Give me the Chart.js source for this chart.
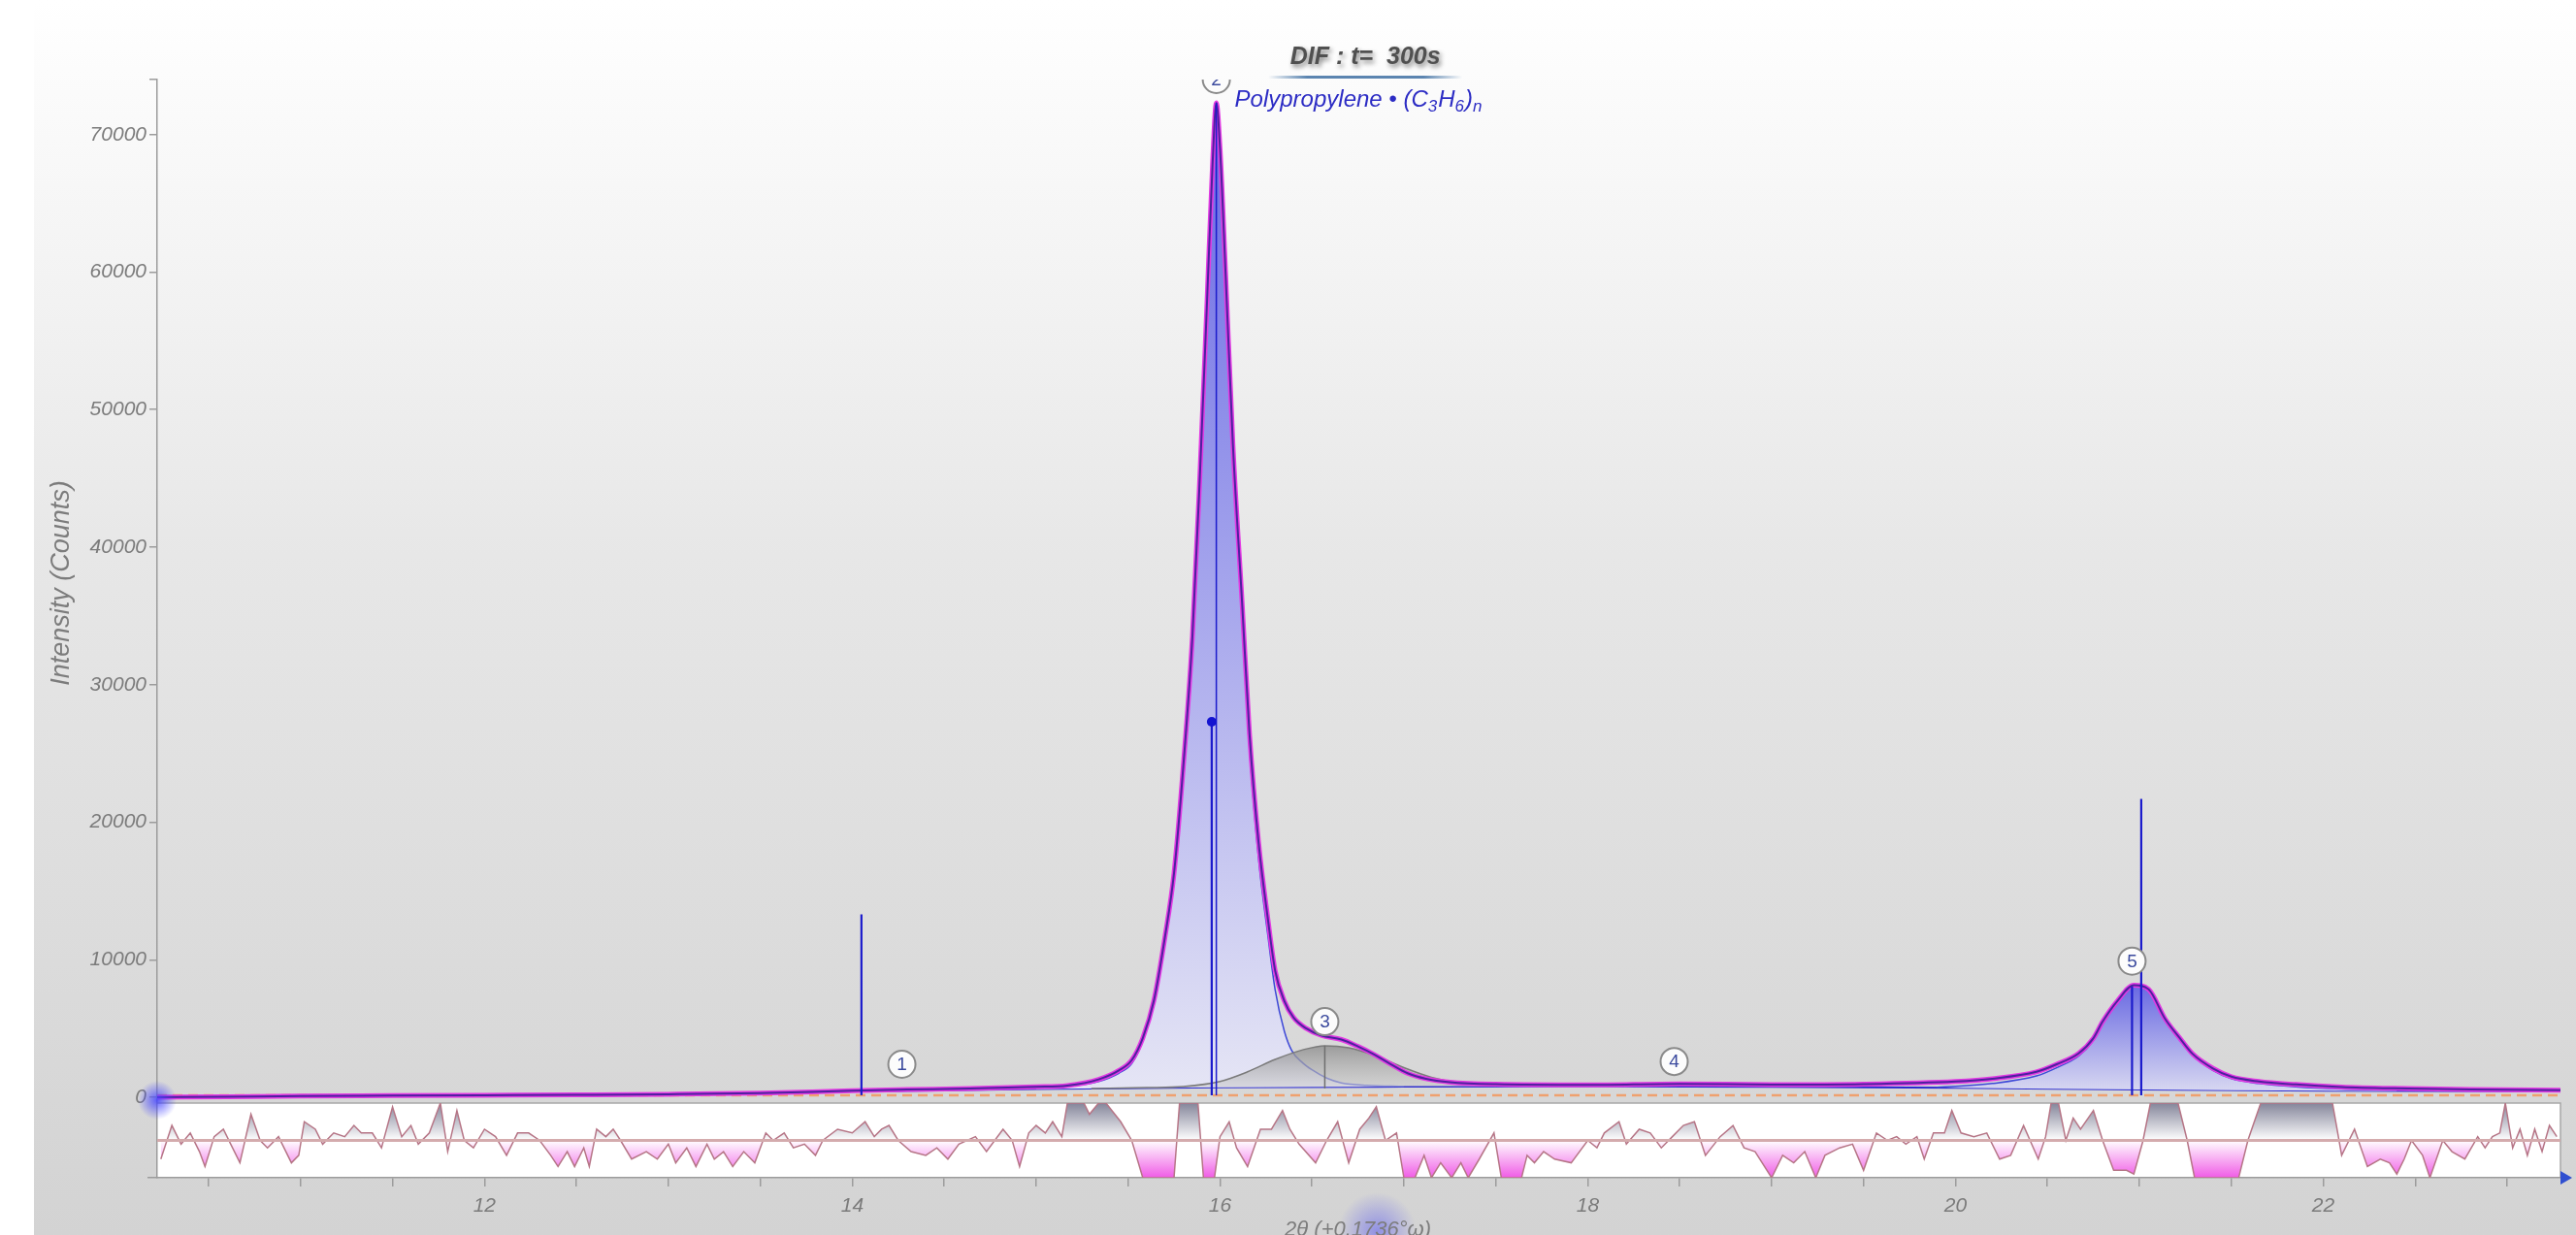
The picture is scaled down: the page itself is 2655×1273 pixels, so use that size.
<!DOCTYPE html>
<html>
<head>
<meta charset="utf-8">
<title>DIF : t= 300s</title>
<script src="https://cdn.jsdelivr.net/npm/chart.js@4.4.1/dist/chart.umd.min.js"></script>
<style>
  body { margin: 0; background: #ffffff; }
  canvas { display: block; }
</style>
</head>
<body>
<canvas id="difChart" width="2655" height="1273"></canvas>
<script>
// axis ranges and ticks
var xMin = 10.22, xMax = 23.29;
var yMin = -420, yMax = 74000;
var xTickValues = [10.5, 11, 11.5, 12, 12.5, 13, 13.5, 14, 14.5, 15, 15.5, 16, 16.5, 17, 17.5, 18, 18.5, 19, 19.5, 20, 20.5, 21, 21.5, 22, 22.5, 23];
var xTickLabels = [12, 14, 16, 18, 20, 22];
var yTickValues = [0, 10000, 20000, 30000, 40000, 50000, 60000, 70000];

// measured / calculated profile (2theta, counts)
var profileX = [10.22, 10.6, 11.0, 11.5, 12.0, 12.5, 13.0, 13.5, 14.0, 14.3,
  14.64, 15.0, 15.17, 15.34, 15.45, 15.52, 15.58, 15.64, 15.70, 15.75,
  15.80, 15.85, 15.89, 15.93, 15.96, 15.98, 16.00, 16.03, 16.07, 16.12,
  16.16, 16.21, 16.26, 16.30, 16.35, 16.40, 16.47, 16.55, 16.66, 16.75,
  16.84, 16.93, 17.02, 17.12, 17.25, 17.5, 18.0, 18.5, 19.0, 19.5,
  20.0, 20.2, 20.44, 20.55, 20.67, 20.75, 20.8, 20.88, 20.97, 21.05,
  21.14, 21.22, 21.29, 21.4, 21.5, 21.65, 21.85, 22.1, 22.38, 22.8,
  23.29];
var profileY = [0, 40, 90, 120, 150, 180, 220, 300, 480, 560,
  640, 760, 850, 1300, 1950, 2700, 4300, 7000, 11600, 16300,
  24000, 33500, 45000, 58000, 68000, 72300, 69000, 60000, 47500, 36000,
  26500, 18500, 13000, 9200, 7000, 5800, 5000, 4500, 4200, 3700,
  3100, 2400, 1750, 1350, 1100, 950, 900, 980, 920, 960,
  1150, 1350, 1850, 2400, 3200, 4300, 5500, 7000, 8150, 7850,
  5700, 4300, 3150, 2100, 1500, 1150, 930, 750, 650, 570,
  520];

// background
var bkgX = [10.22, 12, 13, 14, 15, 16, 17, 18, 19, 20, 21, 22, 23.29];
var bkgY = [0, 110, 230, 420, 600, 730, 770, 790, 760, 690, 560, 480, 440];

// fitted peaks (on top of background)
var peak2X = [15.0, 15.2, 15.34, 15.45, 15.52, 15.58, 15.64, 15.70, 15.75, 15.80,
  15.85, 15.89, 15.93, 15.96, 15.98, 16.00, 16.03, 16.07, 16.12, 16.16,
  16.21, 16.26, 16.30, 16.35, 16.39, 16.45, 16.50, 16.58, 16.66, 16.8,
  17.0];
var peak2Y = [700, 830, 1150, 1750, 2450, 4100, 6800, 11400, 16100, 23800,
  33300, 44800, 57800, 67900, 72300, 69000, 60000, 47300, 35500, 25500,
  17300, 11800, 7800, 4800, 3400, 2500, 2000, 1400, 1050, 870,
  790];
var peak3X = [15.3, 15.6, 15.8, 16.0, 16.15, 16.3, 16.45, 16.57, 16.7, 16.85, 17.0, 17.15, 17.3, 17.5];
var peak3Y = [640, 700, 780, 1150, 1850, 2750, 3450, 3750, 3600, 3000, 2150, 1450, 1050, 820];
var peak5X = [19.9, 20.2, 20.44, 20.55, 20.67, 20.75, 20.8, 20.88, 20.97, 21.05,
  21.14, 21.22, 21.29, 21.4, 21.5, 21.65, 21.85, 22.1, 22.4];
var peak5Y = [720, 1000, 1550, 2150, 3000, 4150, 5350, 6850, 8050, 7750,
  5550, 4150, 3050, 1950, 1350, 1000, 760, 600, 520];

// reflection markers
var markerX = [14.05, 15.98, 15.955, 20.96, 21.01];
var markerTop = [13300, 72300, 27300, 8050, 21700];
var baseLevel = 150;

// numbered peak labels
var peakNo = ['1', '2', '3', '4', '5'];
var peakLabelX = [14.27, 15.98, 16.57, 18.47, 20.96];
var peakLabelY = [2400, 74000, 5500, 2600, 9900];

// difference curve (obs - calc), clipped to +-10
var resX = [10.24, 10.30, 10.35, 10.40, 10.45, 10.48, 10.53, 10.58, 10.62, 10.67,
  10.73, 10.78, 10.82, 10.88, 10.95, 10.99, 11.02, 11.08, 11.12, 11.18,
  11.24, 11.29, 11.33, 11.39, 11.44, 11.50, 11.55, 11.60, 11.64, 11.70,
  11.76, 11.80, 11.85, 11.89, 11.94, 12.00, 12.06, 12.12, 12.18, 12.24,
  12.30, 12.36, 12.40, 12.45, 12.49, 12.54, 12.57, 12.61, 12.66, 12.70,
  12.74, 12.80, 12.88, 12.94, 13.00, 13.04, 13.10, 13.15, 13.21, 13.25,
  13.30, 13.35, 13.41, 13.47, 13.53, 13.57, 13.63, 13.68, 13.74, 13.80,
  13.84, 13.92, 14.00, 14.07, 14.12, 14.16, 14.20, 14.25, 14.32, 14.40,
  14.46, 14.52, 14.58, 14.67, 14.73, 14.82, 14.87, 14.91, 14.96, 15.00,
  15.05, 15.09, 15.14, 15.17, 15.26, 15.29, 15.34, 15.38, 15.46, 15.52,
  15.58, 15.75, 15.78, 15.88, 15.91, 15.97, 16.00, 16.05, 16.09, 16.15,
  16.22, 16.28, 16.34, 16.38, 16.43, 16.52, 16.58, 16.64, 16.70, 16.76,
  16.81, 16.85, 16.90, 16.96, 17.00, 17.06, 17.11, 17.15, 17.20, 17.26,
  17.31, 17.35, 17.41, 17.49, 17.53, 17.64, 17.67, 17.71, 17.76, 17.82,
  17.91, 18.00, 18.05, 18.09, 18.17, 18.21, 18.28, 18.34, 18.40, 18.46,
  18.52, 18.58, 18.64, 18.72, 18.79, 18.85, 18.91, 19.00, 19.06, 19.12,
  19.18, 19.24, 19.29, 19.37, 19.44, 19.50, 19.57, 19.63, 19.68, 19.73,
  19.79, 19.83, 19.88, 19.94, 19.98, 20.03, 20.10, 20.17, 20.24, 20.30,
  20.37, 20.45, 20.49, 20.52, 20.56, 20.60, 20.64, 20.68, 20.75, 20.80,
  20.86, 20.93, 20.97, 21.02, 21.06, 21.21, 21.26, 21.30, 21.54, 21.59,
  21.66, 22.05, 22.10, 22.17, 22.24, 22.31, 22.36, 22.40, 22.44, 22.48,
  22.54, 22.58, 22.65, 22.70, 22.77, 22.84, 22.88, 22.92, 22.96, 22.99,
  23.03, 23.07, 23.11, 23.15, 23.19, 23.23, 23.27];
var resY = [-5, 4, -1, 2, -3, -7, 1, 3, -1, -6,
  7, 0, -2, 1, -6, -4, 5, 3, -1, 2,
  1, 4, 2, 2, -2, 9, 1, 4, -1, 2,
  10, -3, 8, 0, -2, 3, 1, -4, 2, 2,
  0, -4, -7, -3, -7, -2, -7, 3, 1, 3,
  0, -5, -3, -5, -1, -6, -2, -7, -1, -5,
  -3, -7, -3, -6, 2, 0, 2, -2, -1, -4,
  0, 3, 2, 5, 1, 3, 4, 0, -3, -4,
  -2, -5, -1, 1, -3, 3, 0, -7, 2, 4,
  2, 5, 1, 10, 10, 7, 10, 10, 5, 0,
  -10, -10, 10, 10, -10, -10, 1, 5, -2, -7,
  3, 3, 8, 3, -1, -6, 0, 5, -6, 3,
  6, 9, 0, 2, -10, -10, -4, -10, -6, -10,
  -6, -10, -5, 2, -10, -10, -4, -6, -3, -5,
  -6, 0, -2, 2, 5, -1, 3, 2, -2, 1,
  4, 5, -4, 1, 4, -2, -3, -10, -4, -6,
  -3, -10, -4, -2, -1, -8, 2, 0, 1, -1,
  1, -5, 2, 2, 8, 2, 1, 2, -5, -4,
  4, -5, 1, 10, 10, 0, 6, 3, 8, 0,
  -8, -8, -9, 0, 10, 10, 0, -10, -10, 0,
  10, 10, -4, 3, -7, -5, -6, -9, -5, 0,
  -4, -10, 0, -3, -5, 1, -2, 1, 2, 10,
  -2, 3, -4, 3, -3, 4, 1];

var fontFamily = '"Liberation Sans", Arial, sans-serif';
var axisGray = '#9c9c9c';
var tickGray = '#7b7b7b';

function pts(xs, ys) {
  return xs.map(function (x, i) { return { x: x, y: ys[i] }; });
}

// vertical gradient from a peak's top down to zero counts
function peakGradient(top, bottom, peak) {
  return function (context) {
    var chart = context.chart;
    if (!chart.chartArea) return bottom;
    var y = chart.scales.y;
    var g = chart.ctx.createLinearGradient(0, y.getPixelForValue(peak), 0, y.getPixelForValue(0));
    g.addColorStop(0, top);
    g.addColorStop(1, bottom);
    return g;
  };
}

function residualGradient(context) {
  var chart = context.chart;
  if (!chart.chartArea) return 'rgba(0,0,0,0)';
  var r = chart.scales.yRes;
  var g = chart.ctx.createLinearGradient(0, r.top, 0, r.bottom);
  g.addColorStop(0, '#84859a');
  g.addColorStop(0.5, '#ffffff');
  g.addColorStop(1, '#f05ce6');
  return g;
}

var datasets = [];

// background line, index 0 (fill target of the peaks)
datasets.push({
  data: pts(bkgX, bkgY), borderColor: '#2a2ad0', borderWidth: 2,
  cubicInterpolationMode: 'monotone', fill: false, order: 10
});
datasets.push({
  data: pts(peak2X, peak2Y), borderColor: '#3d48d8', borderWidth: 1.5,
  cubicInterpolationMode: 'monotone', fill: 0, order: 8,
  backgroundColor: peakGradient('#6767e4', '#e6e6f5', Math.max.apply(null, peak2Y))
});
datasets.push({
  data: pts(peak3X, peak3Y), borderColor: '#7a7a7a', borderWidth: 1.5,
  cubicInterpolationMode: 'monotone', fill: 0, order: 7.5,
  backgroundColor: peakGradient('rgba(140,140,140,0.8)', 'rgba(220,220,220,0.5)', Math.max.apply(null, peak3Y))
});
datasets.push({
  data: pts(peak5X, peak5Y), borderColor: '#3d48d8', borderWidth: 1.5,
  cubicInterpolationMode: 'monotone', fill: 0, order: 8,
  backgroundColor: peakGradient('#6a6ae2', '#dedef2', Math.max.apply(null, peak5Y))
});

// dashed zero-level line
datasets.push({
  data: [{ x: xMin, y: baseLevel }, { x: xMax, y: baseLevel }],
  borderColor: '#efa16f', borderWidth: 2.5, borderDash: [10, 6], order: 7
});

// calculated (magenta) and observed (purple)
datasets.push({
  data: pts(profileX, profileY), borderColor: '#e33be3', borderWidth: 5,
  cubicInterpolationMode: 'monotone', order: 4
});
datasets.push({
  data: pts(profileX, profileY), borderColor: '#4d219e', borderWidth: 2,
  cubicInterpolationMode: 'monotone', order: 3
});

// peak 3 centre line
var i3 = peak3Y.indexOf(Math.max.apply(null, peak3Y));
datasets.push({
  data: [{ x: peak3X[i3], y: peak3Y[0] }, { x: peak3X[i3], y: peak3Y[i3] }],
  borderColor: '#6e6e6e', borderWidth: 1.5, order: 6
});

// reflection markers
markerX.forEach(function (x, i) {
  datasets.push({
    data: [{ x: x, y: baseLevel }, { x: x, y: markerTop[i] }],
    borderColor: '#1b1bcc', borderWidth: i === 1 ? 1.5 : 2.2, order: 2
  });
});
datasets.push({
  data: [{ x: markerX[2], y: markerTop[2] }], showLine: false,
  pointRadius: 5, pointBackgroundColor: '#1414d0', pointBorderWidth: 0, order: 1
});

// numbered circles
var labelIndex = datasets.length;
datasets.push({
  data: pts(peakLabelX, peakLabelY), showLine: false, pointRadius: 14,
  pointBackgroundColor: '#fcfcfc', pointBorderColor: '#8a8a8a', pointBorderWidth: 2, order: 0
});

// difference panel
datasets.push({
  yAxisID: 'yRes', data: [{ x: xMin, y: 0 }, { x: xMax, y: 0 }],
  borderColor: '#d4abad', borderWidth: 3, order: 11
});
datasets.push({
  yAxisID: 'yRes', data: pts(resX, resY), borderColor: '#b67586', borderWidth: 1.5,
  fill: 'origin', backgroundColor: residualGradient, order: 12
});

var decorations = {
  id: 'decorations',
  beforeDraw: function (chart) {
    var c = chart.ctx, a = chart.chartArea, r = chart.scales.yRes;
    var left = chart.options.layout.padding.left;
    c.save();
    c.fillStyle = '#ffffff';
    c.fillRect(0, 0, chart.width, chart.height);
    var g = c.createLinearGradient(0, 0, 0, chart.height);
    g.addColorStop(0, '#ffffff');
    g.addColorStop(0.45, '#e7e7e7');
    g.addColorStop(1, '#d3d3d3');
    c.fillStyle = g;
    c.fillRect(left, 0, chart.width - left, chart.height);
    c.fillStyle = '#ffffff';
    c.fillRect(a.left, r.top, a.right - a.left, r.bottom - r.top);
    c.strokeStyle = '#a8a8a8';
    c.lineWidth = 1.5;
    c.beginPath();
    c.moveTo(a.left, r.top);
    c.lineTo(a.right, r.top);
    c.lineTo(a.right, r.bottom);
    c.stroke();
    c.restore();
  },
  afterDatasetsDraw: function (chart) {
    var c = chart.ctx, a = chart.chartArea;
    var meta = chart.getDatasetMeta(labelIndex);
    c.save();
    c.beginPath();
    c.rect(a.left, a.top, a.right - a.left, a.bottom - a.top);
    c.clip();
    c.font = '19px ' + fontFamily;
    c.textAlign = 'center';
    c.textBaseline = 'middle';
    c.fillStyle = '#3b4a9e';
    meta.data.forEach(function (pt, i) {
      c.fillText(peakNo[i], pt.x, pt.y + 1);
    });
    c.restore();
  },
  afterDraw: function (chart) {
    var c = chart.ctx, a = chart.chartArea;
    var xs = chart.scales.x, ys = chart.scales.y;
    c.save();

    // glow at the origin
    var ox = a.left, oy = ys.getPixelForValue(0) + 3;
    var glow = c.createRadialGradient(ox, oy, 0, ox, oy, 20);
    glow.addColorStop(0, 'rgba(70,70,255,0.85)');
    glow.addColorStop(1, 'rgba(70,70,255,0)');
    c.fillStyle = glow;
    c.fillRect(ox - 20, oy - 20, 40, 40);

    // arrow at the end of the 2theta axis
    c.fillStyle = '#2f4fd0';
    c.beginPath();
    c.moveTo(a.right, a.bottom - 7);
    c.lineTo(a.right + 12, a.bottom);
    c.lineTo(a.right, a.bottom + 7);
    c.closePath();
    c.fill();

    // y title
    c.fillStyle = '#7c7c7c';
    c.font = 'italic 27px ' + fontFamily;
    c.textAlign = 'center';
    c.textBaseline = 'middle';
    c.save();
    c.translate(63, (a.top + a.bottom) / 2 - 47);
    c.rotate(-Math.PI / 2);
    c.fillText('Intensity (Counts)', 0, 0);
    c.restore();

    // x title, partly below the page edge
    c.font = 'italic 22px ' + fontFamily;
    var tx = xs.getPixelForValue(16.75);
    var xg = c.createRadialGradient(tx + 20, chart.height - 4, 0, tx + 20, chart.height - 4, 40);
    xg.addColorStop(0, 'rgba(90,90,240,0.55)');
    xg.addColorStop(1, 'rgba(90,90,240,0)');
    c.fillStyle = xg;
    c.fillRect(tx - 30, chart.height - 50, 100, 50);
    c.fillStyle = '#7c7c7c';
    c.textBaseline = 'top';
    c.fillText('2\u03b8 (+0.1736\u00b0\u03c9)', tx, chart.height - 16);

    // main title with shadow
    var cx = xs.getPixelForValue(16.79);
    c.textBaseline = 'alphabetic';
    c.font = 'italic bold 25px ' + fontFamily;
    c.shadowColor = 'rgba(40,40,40,0.6)';
    c.shadowBlur = 5;
    c.shadowOffsetX = 2;
    c.shadowOffsetY = 3;
    c.fillStyle = '#505050';
    c.fillText('DIF : t=  300s', cx, 66);
    c.shadowColor = 'rgba(0,0,0,0)';
    var ug = c.createLinearGradient(cx - 100, 0, cx + 100, 0);
    ug.addColorStop(0, 'rgba(74,120,168,0)');
    ug.addColorStop(0.2, 'rgba(74,120,168,0.9)');
    ug.addColorStop(0.8, 'rgba(74,120,168,0.9)');
    ug.addColorStop(1, 'rgba(74,120,168,0)');
    c.fillStyle = ug;
    c.fillRect(cx - 100, 78, 200, 3);

    // phase name with subscripts
    var px = xs.getPixelForValue(16.08), py = 110;
    var parts = [['Polypropylene \u2022 (C', 0], ['3', 1], ['H', 0], ['6', 1], [')', 0], ['n', 1]];
    c.textAlign = 'left';
    c.fillStyle = '#2c2cc4';
    parts.forEach(function (p) {
      c.font = p[1] ? 'italic 17px ' + fontFamily : 'italic 24px ' + fontFamily;
      c.fillText(p[0], px, py + (p[1] ? 5 : 0));
      px += c.measureText(p[0]).width + (p[1] ? 1 : 0);
    });
    c.restore();
  }
};

var tickFont = { family: fontFamily, size: 21, style: 'italic' };

new Chart(document.getElementById('difChart'), {
  type: 'line',
  data: { datasets: datasets },
  options: {
    responsive: false,
    animation: false,
    events: [],
    layout: { padding: { top: 82, left: 35, right: 16, bottom: 0 } },
    elements: { point: { radius: 0 }, line: { tension: 0 } },
    plugins: {
      legend: { display: false },
      title: { display: false },
      tooltip: { enabled: false }
    },
    scales: {
      x: {
        type: 'linear', min: xMin, max: xMax,
        afterBuildTicks: function (s) { s.ticks = xTickValues.map(function (v) { return { value: v }; }); },
        afterFit: function (s) { s.height = 59; },
        grid: { drawOnChartArea: false, tickLength: 9, color: axisGray, lineWidth: 1.5 },
        border: { color: axisGray, width: 1.5 },
        ticks: {
          autoSkip: false, maxRotation: 0, padding: 8, color: tickGray, font: tickFont,
          callback: function (v) { return xTickLabels.indexOf(v) >= 0 ? String(v) : ''; }
        }
      },
      y: {
        type: 'linear', position: 'left', stack: 'panels', stackWeight: 13.7, weight: 2,
        min: yMin, max: yMax,
        afterBuildTicks: function (s) { s.ticks = yTickValues.concat([yMax]).map(function (v) { return { value: v }; }); },
        afterFit: function (s) { s.width = 127; },
        grid: { drawOnChartArea: false, tickLength: 8, color: axisGray, lineWidth: 1.5 },
        border: { color: axisGray, width: 1.5 },
        ticks: {
          padding: 3, color: tickGray, font: tickFont,
          callback: function (v) { return v === yMax ? '' : String(v); }
        }
      },
      yRes: {
        type: 'linear', position: 'left', stack: 'panels', stackWeight: 1, weight: 1,
        min: -10, max: 10,
        afterBuildTicks: function (s) { s.ticks = [{ value: -10 }]; },
        afterFit: function (s) { s.width = 127; },
        grid: { drawOnChartArea: false, tickLength: 10, color: axisGray, lineWidth: 1.5 },
        border: { color: axisGray, width: 1.5 },
        ticks: { display: false }
      }
    }
  },
  plugins: [decorations]
});
</script>
</body>
</html>
